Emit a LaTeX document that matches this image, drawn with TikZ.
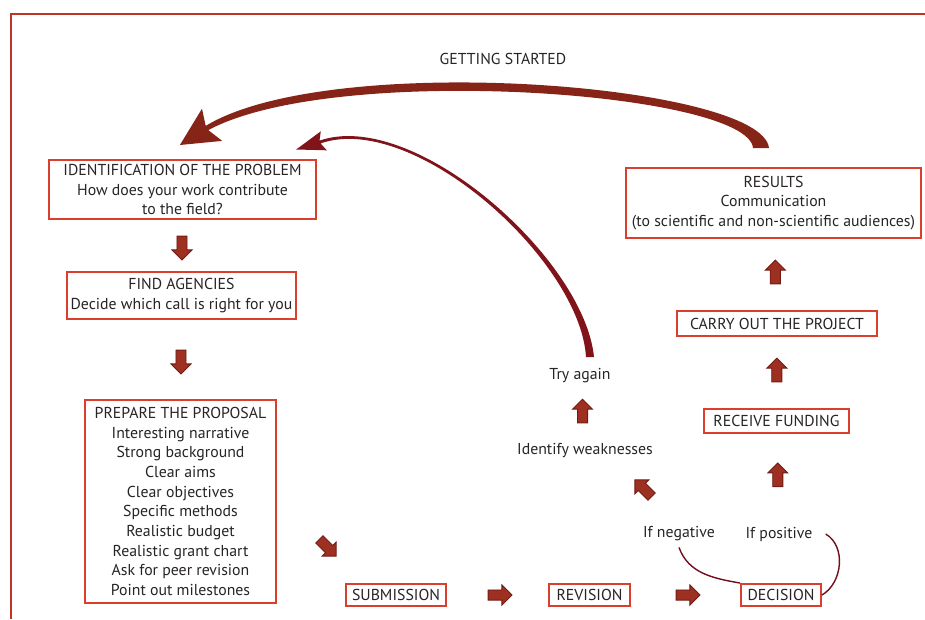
\documentclass[tikz,border=0pt]{standalone}
\usepackage{fontspec}
\setmainfont{PT Sans}
\usetikzlibrary{shapes.arrows, calc, positioning}
\definecolor{boxred}{RGB}{218,62,45}
\definecolor{framered}{RGB}{192,52,40}
\definecolor{arrowfill}{RGB}{158,48,34}
\definecolor{arrowline}{RGB}{112,28,20}
\definecolor{curvered}{RGB}{135,36,24}
\definecolor{backred}{RGB}{128,20,26}
\definecolor{linkred}{RGB}{112,14,28}
\definecolor{ink}{RGB}{40,36,37}

\begin{document}
\begin{tikzpicture}[x=0.02cm, y=-0.02cm,
    every node/.style={font=\fontsize{9}{11.2}\selectfont, text=ink, align=center},
    box/.style={draw=boxred, line width=1.1pt, fill=white, inner sep=2pt},
    fatarrow/.style={single arrow, draw=arrowline, fill=arrowfill, line width=0.5pt,
        minimum height=13.5pt, minimum width=11.4pt, single arrow head extend=2.8pt,
        inner xsep=0pt, inner ysep=2.6pt},
    thinlink/.style={draw=linkred, line width=0.8pt}]
    \useasboundingbox (0,0) rectangle (925,619);
    \draw[framered, line width=1.1pt] (11,619) -- (11,14) -- (925,14);

    \node (title) at (503,59) {GETTING STARTED};

    % left column
    \node[box, minimum width=5.34cm, minimum height=1.18cm] (ident) at (182.5,189.5)
        {IDENTIFICATION OF THE PROBLEM\\How does your work contribute\\to the field?};
    \node[box, minimum width=4.54cm, minimum height=0.94cm] (find) at (181.5,295.5)
        {FIND AGENCIES\\Decide which call is right for you};
    \node[box, minimum width=3.82cm, minimum height=4.06cm] (prep) at (180.5,501.5)
        {PREPARE THE PROPOSAL\\Interesting narrative\\Strong background\\Clear aims\\
         Clear objectives\\Specific methods\\Realistic budget\\Realistic grant chart\\
         Ask for peer revision\\Point out milestones};

    % bottom row
    \node[box, minimum width=2cm, minimum height=0.44cm] (subm) at (396,595) {SUBMISSION};
    \node[box, minimum width=1.62cm, minimum height=0.44cm] (rev) at (589.5,595) {REVISION};
    \node[box, minimum width=1.6cm, minimum height=0.44cm] (dec) at (781,595) {DECISION};

    % right column
    \node[box, minimum width=5.9cm, minimum height=1.4cm] (res) at (773.5,203)
        {RESULTS\\Communication\\(to scientific and non-scientific audiences)};
    \node[box, minimum width=4cm, minimum height=0.5cm] (carry) at (777,323.5) {CARRY OUT THE PROJECT};
    \node[box, minimum width=2.9cm, minimum height=0.48cm] (recv) at (776.5,421) {RECEIVE FUNDING};

    \node (retry) at (580,376) {Try again};
    \node (weak) at (585,451) {Identify weaknesses};
    \node (neg) at (679,534) {If negative};
    \node (pos) at (779,534) {If positive};

    % fat arrows
    \node[fatarrow, rotate=-90] (a1) at ($(ident.south)!.5!(find.north)$) {};
    \node[fatarrow, rotate=-90] (a2) at ($(find.south)!.5!(prep.north)$) {};
    \node[fatarrow, rotate=-45] (a3) at (326,546) {};
    \node[fatarrow] (a4) at ($(subm.east)!.5!(rev.west)$) {};
    \node[fatarrow] (a5) at ($(rev.east)!.5!(dec.west)$) {};
    \node[fatarrow, rotate=135] (a6) at (645,490) {};
    \node[fatarrow, rotate=90] (a7) at ($(weak.north)!.5!(retry.south)$) {};
    \node[fatarrow, rotate=90] (a8) at ($(pos.north)!.5!(recv.south)$) {};
    \node[fatarrow, rotate=90] (a9) at ($(recv.north)!.5!(carry.south)$) {};
    \node[fatarrow, rotate=90] (a10) at ($(carry.north)!.5!(res.south)$) {};

    % decision links
    \draw[thinlink] (neg.south) to[out=-70, in=170] (dec.north west);
    \draw[thinlink] ([xshift=4pt]pos.east) to[out=-30, in=30] (dec.east);

    % back to the start
    \fill[curvered] (769,148) .. controls (762,84) and (330,50) .. (205.7,125.9)
        -- (202,108.7) -- (179.9,145) -- (222.2,140.9) -- (208.3,130.1)
        .. controls (335,62) and (748,92) .. (753,148) -- cycle;
    \fill[backred] (594,357) .. controls (584,258) and (414,108) .. (319.5,140.6)
        -- (320.8,131.3) -- (296.2,149.5) -- (326.8,150.3) -- (320.5,143.4)
        .. controls (414,111) and (580,260) .. (586,357) -- cycle;
\end{tikzpicture}
\end{document}
